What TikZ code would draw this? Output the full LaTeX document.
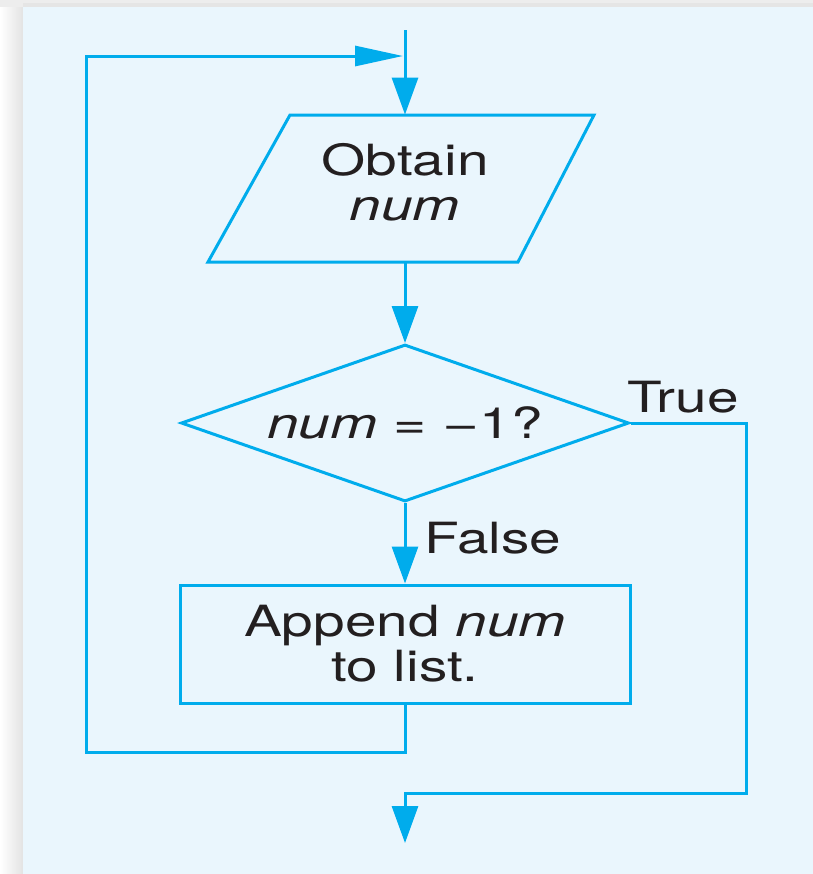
\documentclass[tikz,border=0pt]{standalone}
\usepackage{fontspec}
\setmainfont[FakeStretch=1.32]{TeX Gyre Heros}
\usetikzlibrary{arrows.meta,shapes.geometric,calc}
\definecolor{flow}{RGB}{0,172,236}
\definecolor{panel}{RGB}{234,246,253}
\definecolor{ink}{RGB}{35,31,32}
\tikzset{
  flowline/.style={draw=flow, line width=1.5pt, line join=miter},
  varr/.style={-{Triangle[length=18.5pt,width=13pt]}},
  harr/.style={-{Triangle[length=24pt,width=10pt]}},
  txt/.style={text=ink, font=\fontsize{21.5}{22.5}\selectfont, align=center, inner sep=0pt},
  procbox/.style={rectangle, draw=flow, line width=1.5pt, minimum width=225pt, minimum height=59pt, txt},
  decbox/.style={diamond, draw=flow, line width=1.5pt, minimum width=224pt, minimum height=78.5pt, aspect=2.9, inner sep=0pt, txt},
  iobox/.style={rectangle, minimum width=150pt, minimum height=73.5pt, txt}
}
\begin{document}
\begin{tikzpicture}[x=0.5pt, y=-0.5pt]
  \useasboundingbox (0,0) rectangle (813,874);
  % background
  \fill[left color=white, right color=black!11] (0,0) rectangle (23,874);
  \fill[black!7] (0,0) rectangle (813,7);
  \fill[black!10] (23,3) rectangle (813,7);
  \fill[panel] (23,7) rectangle (813,874);

  % nodes
  \coordinate (start) at (405,30);
  \node[iobox] (obtain) at (405,188.5) {\raisebox{1.5pt}{\begin{tabular}{@{}c@{}}Obtain\\\textit{num}\end{tabular}}};
  \draw[flowline] (290,115) -- (594,115) -- (518,262) -- (208,262) -- cycle;
  \node[decbox] (dec) at (405,423) {\textit{num} = \scalebox{1.12}[1]{\char"2212}1?};
  \node[procbox] (app) at (405,644) {Append \textit{num}\\to list.};
  \node[txt, anchor=base west] (tlab) at (627,412) {True};
  \node[txt, anchor=base west] (flab) at (424,553) {False};

  \coordinate (tr) at (746,423);
  \coordinate (join) at (405,793);
  \coordinate (stop) at (405,843);
  \coordinate (lb) at (405,752);
  \coordinate (lt) at (86,56);
  \coordinate (tip) at (403,56);

  % connectors
  \draw[flowline, varr] (start) -- (obtain.north);
  \draw[flowline, varr] (obtain.south) -- (dec.north);
  \draw[flowline, varr] (dec.south) -- (app.north);
  \draw[flowline, varr] (dec.east) -- (tr) |- (join) -- (stop);
  \draw[flowline, harr] (app.south) -- (lb) -| (lt) -- (tip);
\end{tikzpicture}
\end{document}
